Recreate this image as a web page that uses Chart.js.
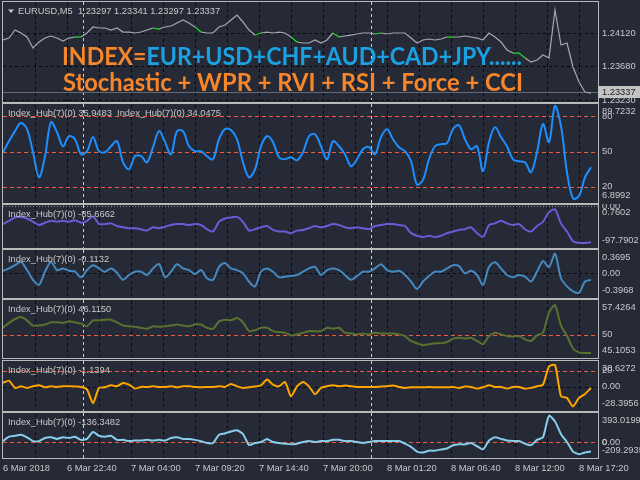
<!DOCTYPE html>
<html>
<head>
<meta charset="utf-8">
<script src="https://cdn.jsdelivr.net/npm/chart.js@4.4.1/dist/chart.umd.min.js"></script>
<style>
html,body{margin:0;padding:0;background:#252a36;}
#wrap{position:relative;width:640px;height:480px;overflow:hidden;background:#252a36;}
.pane{position:absolute;left:0;width:640px;}
canvas{display:block;}
</style>
</head>
<body>
<div id="wrap"></div>
<script>
// M5 bars between two samples, and bars visible in the window
const STEP = 6;
const VIEW_BARS = 595;
const TICK_EVERY = 64;
const GRID_EVERY = 32;

const xTickLabels = ['6 Mar 2018','6 Mar 22:40','7 Mar 04:00','7 Mar 09:20','7 Mar 14:40',
  '7 Mar 20:00','8 Mar 01:20','8 Mar 06:40','8 Mar 12:00','8 Mar 17:20'];
const daySeparators = [80, 368];
const signalBars = [72, 150, 192, 255, 288, 330, 375, 446, 512, 518];

const priceClose = [1.24031,1.24057,1.24164,1.24124,1.24071,1.23924,1.24004,1.24057,1.24084,1.24057,
  1.24017,1.24057,1.24071,1.24071,1.24124,1.24204,1.24191,1.24191,1.24164,1.24191,
  1.24137,1.24137,1.24124,1.24137,1.24164,1.24191,1.24177,1.24204,1.24217,1.24257,
  1.24297,1.24257,1.24204,1.24137,1.24124,1.24124,1.24204,1.24231,1.24297,1.24364,
  1.24271,1.24164,1.24097,1.24124,1.24137,1.24124,1.24137,1.24124,1.24071,1.24004,
  1.23991,1.23991,1.24031,1.23991,1.24031,1.24124,1.24071,1.24084,1.24097,1.24111,
  1.24124,1.24124,1.24111,1.24124,1.24111,1.24124,1.24124,1.24124,1.24057,1.23991,
  1.24031,1.24044,1.24031,1.24044,1.24071,1.24071,1.24071,1.24084,1.24071,1.24057,
  1.24031,1.24124,1.24071,1.24004,1.23898,1.23857,1.23857,1.23791,1.23737,1.23764,
  1.23831,1.23791,1.24431,1.23964,1.23991,1.23671,1.23471,1.23338,1.23324];
const priceLast = 1.23337;
const priceGrid = [1.24120, 1.23680, 1.23230];
const priceRange = [1.23218, 1.24524];

const stochMain = [49.4,58.8,67.4,74.3,69.1,49.4,28.0,46.0,75.1,66.5,
  54.5,63.1,60.5,47.7,50.3,62.3,50.3,49.4,54.5,58.8,
  40.8,34.8,46.0,46.0,40.8,53.7,67.4,58.0,47.7,67.4,
  67.4,54.5,50.3,50.3,46.0,43.4,60.5,69.1,68.3,60.5,
  40.8,28.0,34.8,54.5,63.1,58.0,45.1,43.4,45.1,42.5,
  49.4,63.1,64.8,54.5,43.4,58.8,54.5,47.7,37.4,43.4,
  52.0,53.7,47.7,62.3,69.1,60.5,53.7,50.3,41.7,21.7,
  26.0,43.4,54.5,56.3,57.1,69.1,72.5,60.5,52.0,54.5,
  33.1,58.0,70.8,62.3,54.5,43.4,41.7,40.8,32.3,49.4,
  73.4,58.0,89.0,71.7,32.3,10.0,12.0,28.0,36.6];
const stochRange = [6.8992, 89.7232];
const stochLevels = [80, 50, 20];

const wprMain = [-42.6,-34.9,-26.9,-25.5,-29.3,-37.2,-45.0,-39.6,-34.9,-37.2,
  -34.9,-37.2,-33.3,-39.6,-34.9,-24.0,-42.6,-42.6,-41.0,-47.3,
  -50.4,-52.7,-52.7,-55.1,-58.4,-50.4,-52.7,-49.0,-45.0,-42.6,
  -42.6,-45.0,-42.6,-45.0,-55.1,-60.7,-37.2,-29.3,-26.9,-25.5,
  -37.2,-58.4,-55.1,-50.4,-47.3,-56.7,-60.7,-60.7,-64.5,-58.4,
  -56.7,-52.7,-47.3,-50.4,-47.3,-42.6,-45.0,-50.4,-52.7,-50.4,
  -52.7,-55.1,-47.3,-45.0,-42.6,-42.6,-45.0,-47.3,-64.5,-70.8,
  -73.8,-70.8,-73.8,-70.8,-64.5,-60.7,-56.7,-55.1,-50.4,-64.5,
  -73.8,-45.0,-41.0,-34.9,-41.0,-45.0,-42.6,-55.1,-60.7,-47.3,
  -37.2,-14.0,-7.0,-41.0,-60.7,-84.2,-87.9,-87.9,-86.5];
const wprRange = [-97.7902, 0.7602];

const rviMain = [0.040,0.079,0.133,0.187,0.052,-0.111,-0.193,0.024,0.187,0.052,
  0.079,0.040,0.024,-0.067,0.052,0.133,0.079,0.024,0.079,0.008,
  -0.111,-0.030,0.024,0.024,-0.030,0.079,0.150,-0.067,0.024,0.150,
  0.079,0.052,-0.014,0.052,-0.084,-0.111,0.105,0.171,0.079,0.052,
  -0.002,-0.139,-0.221,0.024,0.079,0.024,-0.067,-0.058,-0.046,-0.030,
  0.024,0.079,0.105,-0.030,0.052,0.079,0.052,-0.030,-0.111,-0.046,
  0.024,0.024,0.079,0.150,0.052,0.024,0.040,-0.030,-0.139,-0.263,
  -0.139,-0.046,0.024,0.024,0.079,0.133,0.117,-0.002,0.040,-0.030,
  -0.193,0.105,0.182,0.079,-0.030,-0.067,-0.030,-0.058,-0.139,0.024,
  0.203,0.100,0.324,-0.084,-0.221,-0.302,-0.328,-0.139,-0.111];
const rviRange = [-0.3968, 0.3695];

const rsiMain = [51.53,52.61,53.47,53.90,53.17,52.02,52.02,52.24,52.73,52.73,
  52.61,52.95,52.73,52.45,51.87,53.17,53.17,53.32,53.32,52.73,
  52.02,51.87,51.74,51.53,51.31,51.87,51.74,51.87,52.02,52.24,
  52.02,51.87,52.24,52.24,51.53,51.31,52.95,53.32,53.17,53.69,
  52.73,50.79,51.00,51.53,51.53,50.79,50.57,50.44,49.86,50.08,
  50.44,50.79,50.79,50.79,51.53,51.31,51.53,50.44,50.29,50.08,
  50.29,50.08,50.44,50.29,50.29,50.29,50.08,49.71,48.63,48.13,
  47.70,47.91,48.13,48.13,48.41,49.15,49.36,49.15,49.36,48.63,
  47.91,49.71,50.44,50.08,49.71,49.58,49.71,48.99,48.63,49.86,
  50.44,54.90,56.50,52.02,49.71,46.98,46.12,45.97,45.97];
const rsiRange = [45.1053, 57.4264];
const rsiLevels = [50];

const forceMain = [4.9,7.7,-1.2,0.7,-1.2,0.7,2.0,-0.5,0.7,0.0,
  0.7,0.7,0.4,0.0,-3.0,-20.0,-1.2,-0.5,2.0,0.7,
  4.9,2.8,-2.1,0.0,0.0,0.7,0.0,0.0,0.7,-0.5,
  0.7,0.7,0.0,-0.5,0.0,0.0,0.7,0.0,3.7,0.7,
  -1.2,-0.5,0.4,2.0,9.0,2.8,0.7,6.1,-11.5,0.7,
  6.1,0.7,-9.0,-1.2,0.7,2.0,0.7,1.6,0.7,0.0,
  0.0,0.0,0.0,0.4,0.7,1.6,0.0,-1.2,-0.5,-0.5,
  -0.5,0.0,-0.5,-0.5,-0.5,0.0,-1.2,0.4,0.0,-2.1,
  -0.5,2.0,0.0,0.0,-2.1,0.0,0.0,-2.1,-1.2,0.7,
  2.8,25.0,27.0,-11.5,-13.5,-24.0,-13.5,-8.6,-1.2];
const forceRange = [-28.3956, 30.6272];
const forceLevels = [20];

const cciMain = [13.4,74.9,88.2,101.6,66.9,13.4,13.4,57.5,66.9,44.1,
  66.9,57.5,74.9,30.8,44.1,140.0,88.2,74.9,88.2,30.8,
  30.8,13.4,21.4,21.4,30.8,21.4,30.8,21.4,57.5,66.9,
  44.1,44.1,30.8,13.4,-13.4,-13.4,101.6,120.3,147.1,164.5,
  111.0,-40.0,-13.4,0.0,44.1,0.0,-13.4,-22.7,-32.1,-22.7,
  0.0,13.4,0.0,13.4,13.4,30.8,30.8,13.4,13.4,0.0,
  -13.4,0.0,13.4,13.4,13.4,13.4,13.4,-22.7,-66.9,-133.7,
  -147.1,-120.3,-120.3,-103.0,-89.6,-45.5,-32.1,-32.1,-13.4,-58.8,
  -103.0,21.4,66.9,44.1,21.4,13.4,13.4,-22.7,-45.5,30.8,
  66.9,370.0,288.8,111.0,0.0,-133.7,-169.8,-147.1,-133.7];
const cciRange = [-209.2935, 393.0199];
const cciLevels = [0];

const BG = '#252a36', TXT = '#c8c8c8', GRID = '#07080b', BORDER = '#b9b9b9';
const LEVEL = '#ef5b3b', SEP = '#d0d0d0', ORANGE = '#f7862a', BLUE = '#1ba0e2';
const FONT = '"Liberation Sans", Arial, sans-serif';

const panes = [
  { top:0, h:103, ct:3, cb:101, values:priceClose, range:priceRange, color:'#a4a9b0', lw:1.2, tension:0,
    legend:'EURUSD,M5  1.23297 1.23341 1.23297 1.23337', legendX:18, triangle:true, title:true, signals:true,
    lines: priceGrid.map(v => ({v, c:GRID, d:[3,3]})).concat([{v:priceLast, c:'#656a72', d:[]}]),
    labels: priceGrid.map(v => ({t:v.toFixed(5), v})), box:priceLast },
  { top:103, h:101, ct:105, cb:202, values:stochMain, range:stochRange, color:'#1e8fff', lw:2, tension:0.35,
    legend:'Index_Hub(7)(0) 35.9483  Index_Hub(7)(0) 34.0475', minmax:true,
    lines: stochLevels.map(v => ({v, c:LEVEL, d:[4,3]})), labels: stochLevels.map(v => ({t:String(v), v})) },
  { top:204, h:45, ct:206, cb:247, values:wprMain, range:wprRange, color:'#6a5bd6', lw:2, tension:0.2,
    legend:'Index_Hub(7)(0) -85.6662', minmax:true,
    lines:[{v:0, c:'#8a9099', d:[1,2]}], labels:[{t:'0.00', v:0}] },
  { top:249, h:50, ct:251, cb:297, values:rviMain, range:rviRange, color:'#4689c0', lw:2, tension:0.3,
    legend:'Index_Hub(7)(0) -0.1132', minmax:true,
    lines:[{v:0, c:GRID, d:[3,3]}], labels:[{t:'0.00', v:0}] },
  { top:299, h:61, ct:301, cb:357, values:rsiMain, range:rsiRange, color:'#5a7130', lw:2, tension:0.2,
    legend:'Index_Hub(7)(0) 46.1150', minmax:true,
    lines: rsiLevels.map(v => ({v, c:LEVEL, d:[4,3]})), labels: rsiLevels.map(v => ({t:String(v), v})) },
  { top:360, h:52, ct:362, cb:410, values:forceMain, range:forceRange, color:'#ffa500', lw:2, tension:0.2,
    legend:'Index_Hub(7)(0) -1.1394', minmax:true,
    lines: forceLevels.map(v => ({v, c:LEVEL, d:[4,3]})).concat([{v:0, c:GRID, d:[3,3]}]),
    labels: forceLevels.map(v => ({t:String(v), v})).concat([{t:'0.00', v:0}]) },
  { top:412, h:68, ct:414, cb:457, values:cciMain, range:cciRange, color:'#87ceeb', lw:2, tension:0.2,
    legend:'Index_Hub(7)(0) -136.3482', minmax:true, last:true,
    lines: cciLevels.map(v => ({v, c:LEVEL, d:[4,3]})),
    labels:[{t:'0', v:0}, {t:'0.00', v:0}] }
];

function drawFitted(c, parts, x, y, w) {
  let total = 0;
  parts.forEach(p => { total += c.measureText(p[0]).width; });
  c.save();
  c.translate(x, y);
  c.scale(w / total, 1);
  let cx = 0;
  parts.forEach(p => { c.fillStyle = p[1]; c.fillText(p[0], cx, 0); cx += c.measureText(p[0]).width; });
  c.restore();
}

const gridBars = [];
for (let b = 0; b <= VIEW_BARS; b += GRID_EVERY) gridBars.push(b);

const mtPlugin = {
  id: 'mt',
  beforeDraw(chart) {
    const c = chart.ctx;
    c.save(); c.fillStyle = BG; c.fillRect(0, 0, chart.width, chart.height); c.restore();
  },
  beforeDatasetsDraw(chart, args, o) {
    const c = chart.ctx, a = chart.chartArea, x = chart.scales.x, y = chart.scales.y;
    c.save();
    c.lineWidth = 1;
    // time grid, every 32 bars
    c.strokeStyle = GRID; c.setLineDash([3, 3]);
    gridBars.forEach(b => {
      if (b === 0) return;
      const px = Math.round(x.getPixelForValue(b)) + 0.5;
      c.beginPath(); c.moveTo(px, a.top); c.lineTo(px, a.bottom); c.stroke();
    });
    // day separators
    c.strokeStyle = SEP; c.setLineDash([3, 3]);
    daySeparators.forEach(b => {
      const px = Math.round(x.getPixelForValue(b)) + 0.5;
      c.beginPath(); c.moveTo(px, a.top - 1); c.lineTo(px, a.bottom + 1); c.stroke();
    });
    (o.lines || []).forEach(l => {
      const py = Math.round(y.getPixelForValue(l.v)) + 0.5;
      c.strokeStyle = l.c; c.setLineDash(l.d);
      c.beginPath(); c.moveTo(a.left, py); c.lineTo(a.right, py); c.stroke();
    });
    c.restore();
  },
  afterDatasetsDraw(chart, args, o) {
    const c = chart.ctx, a = chart.chartArea, y = chart.scales.y;
    c.save();
    if (o.title) {
      c.font = 'bold 25px Lato, "Open Sans", sans-serif';
      c.textBaseline = 'alphabetic';
      drawFitted(c, [['INDEX=', ORANGE], ['EUR+USD+CHF+AUD+CAD+JPY......', BLUE]], 62, 65, 460);
      drawFitted(c, [['Stochastic + WPR + RVI + RSI + Force + CCI', ORANGE]], 63, 91, 460);
    }
    // panel frame
    c.strokeStyle = BORDER; c.lineWidth = 1; c.setLineDash([]);
    c.strokeRect(a.left - 0.5, a.top - 1.5, a.right - a.left + 1, a.bottom - a.top + 3);
    // right-hand labels
    c.font = '9.3px ' + FONT;
    c.fillStyle = TXT; c.textBaseline = 'middle'; c.textAlign = 'left';
    const lx = a.right + 4;
    (o.labels || []).forEach(l => c.fillText(l.t, lx, y.getPixelForValue(l.v)));
    if (o.minmax) {
      c.fillText(o.range[1].toFixed(4), lx, a.top + 6.5);
      c.fillText(o.range[0].toFixed(4), lx, a.bottom - 6.5);
    }
    if (o.box) {
      const py = Math.round(y.getPixelForValue(o.box));
      c.fillStyle = '#c4c4c4';
      c.fillRect(a.right, py - 6, chart.width - a.right, 12);
      c.fillStyle = '#1c1c1c';
      c.fillText(o.box.toFixed(5), lx, py);
    }
    // legend line
    c.fillStyle = TXT;
    const lgx = o.legendX || a.left + 5;
    c.fillText(o.legend, lgx, a.top + 8.5);
    if (o.triangle) {
      c.beginPath(); c.moveTo(8, a.top + 6.5); c.lineTo(14, a.top + 6.5); c.lineTo(11, a.top + 10); c.closePath(); c.fill();
    }
    c.restore();
  }
};

const wrap = document.getElementById('wrap');
panes.forEach(p => {
  const div = document.createElement('div');
  div.className = 'pane';
  div.style.top = p.top + 'px';
  div.style.height = p.h + 'px';
  const cv = document.createElement('canvas');
  cv.width = 640; cv.height = p.h;
  cv.style.width = '640px'; cv.style.height = p.h + 'px';
  div.appendChild(cv);
  wrap.appendChild(div);
  const axisH = p.last ? 21 : 0;

  const seg = p.signals ? {
    borderColor: ctx => {
      const b0 = ctx.p0DataIndex * STEP;
      return signalBars.some(s => s >= b0 && s < b0 + STEP) ? '#22e022' : undefined;
    }
  } : undefined;

  new Chart(cv, {
    type: 'line',
    data: {
      datasets: [{
        data: p.values.map((v, i) => ({x: i * STEP, y: v})),
        borderColor: p.color, borderWidth: p.lw,
        pointRadius: 0, tension: p.tension, fill: false, segment: seg
      }]
    },
    options: {
      responsive: false, animation: false, devicePixelRatio: 1,
      events: [],
      layout: { padding: { left: 3, right: 0, top: p.ct - p.top, bottom: p.top + p.h - p.cb - axisH } },
      plugins: {
        legend: { display: false }, tooltip: { enabled: false }, title: { display: false },
        mt: p
      },
      scales: {
        x: {
          type: 'linear', min: 0, max: VIEW_BARS,
          afterBuildTicks: s => { s.ticks = gridBars.map(v => ({value: v})); },
          afterFit: s => { s.height = axisH; s.paddingLeft = 0; s.paddingRight = 0; },
          grid: { display: false, drawTicks: false },
          border: { display: false },
          ticks: {
            display: !!p.last, autoSkip: false, maxRotation: 0, minRotation: 0,
            align: 'start', padding: 6, color: TXT, font: { family: FONT, size: 9.3 },
            callback: v => (v % TICK_EVERY === 0 ? xTickLabels[v / TICK_EVERY] : '')
          }
        },
        y: {
          position: 'right', min: p.range[0], max: p.range[1],
          afterFit: s => { s.width = 42; },
          ticks: { display: false }, grid: { display: false }, border: { display: false }
        }
      }
    },
    plugins: [mtPlugin]
  });
});
</script>
</body>
</html>
